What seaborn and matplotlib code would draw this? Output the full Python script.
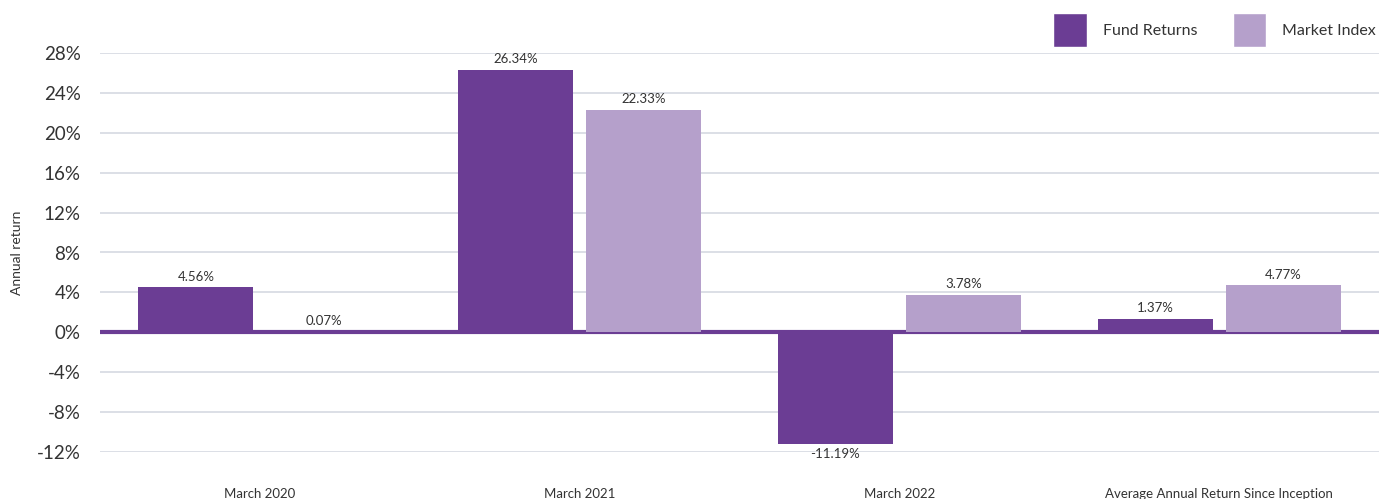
import matplotlib
matplotlib.use("Agg")
import matplotlib.pyplot as plt
import seaborn as sns
import pandas as pd
from matplotlib.patches import Patch
from matplotlib.ticker import FuncFormatter, MultipleLocator

# data
periods = ["March 2020", "March 2021", "March 2022", "Average Annual Return Since Inception"]
fund_returns = [4.56, 26.34, -11.19, 1.37]
market_index = [0.07, 22.33, 3.78, 4.77]
series_names = ["Fund Returns", "Market Index"]

FUND_COLOR = "#6b3d94"
INDEX_COLOR = "#b5a0cb"
GRID_COLOR = "#d6d9e2"
TEXT_COLOR = "#333333"

df = pd.DataFrame({
    "period": periods * 2,
    "series": [series_names[0]] * 4 + [series_names[1]] * 4,
    "value": fund_returns + market_index,
})

sns.set_theme(style="white")
plt.rcParams["font.family"] = ["Lato", "DejaVu Sans"]

fig = plt.figure(figsize=(13.79, 4.99), dpi=100)
ax = fig.add_axes([100 / 1379, 1 - 452 / 499, 1 - 100 / 1379, (452 - 53) / 499])

# zero line under the bars
ax.axhline(0, color=FUND_COLOR, linewidth=3, zorder=1)

sns.barplot(data=df, x="period", y="value", hue="series", order=periods,
            hue_order=series_names, palette=[FUND_COLOR, INDEX_COLOR],
            width=0.8, gap=0.1, saturation=1, legend=False, ax=ax, zorder=2,
            linewidth=0, edgecolor="none")

for cont in ax.containers:
    ax.bar_label(cont, labels=[f"{b.get_height():.2f}%" for b in cont],
                 padding=3, fontsize=9.5, color=TEXT_COLOR)

ax.set_xlim(-0.5, len(periods) - 0.5)
ax.set_ylim(-12, 28)
ax.yaxis.set_major_locator(MultipleLocator(4))
ax.yaxis.set_major_formatter(FuncFormatter(lambda v, p: f"{v:.0f}%"))
ax.grid(axis="y", color=GRID_COLOR, linewidth=1.2, zorder=0)
ax.set_axisbelow(True)
for s in ax.spines.values():
    s.set_visible(False)

ax.tick_params(axis="y", length=0, pad=14, labelsize=13.5, labelcolor=TEXT_COLOR)
ax.tick_params(axis="x", length=0, pad=26, labelsize=9.5, labelcolor=TEXT_COLOR)
ax.set_xlabel("")
ax.set_ylabel("Annual return", fontsize=10, color=TEXT_COLOR, labelpad=10)

handles = [Patch(facecolor=FUND_COLOR, label=series_names[0]),
           Patch(facecolor=INDEX_COLOR, label=series_names[1])]
fig.legend(handles=handles, loc="center right", bbox_to_anchor=(1.0, 1 - 30 / 499),
           ncol=2, frameon=False, fontsize=11.5, handlelength=2.1, handleheight=2.9,
           handletextpad=1.0, columnspacing=2.2, borderaxespad=0.1, borderpad=0.1,
           labelcolor=TEXT_COLOR)

fig.savefig("out.png", dpi=100)
